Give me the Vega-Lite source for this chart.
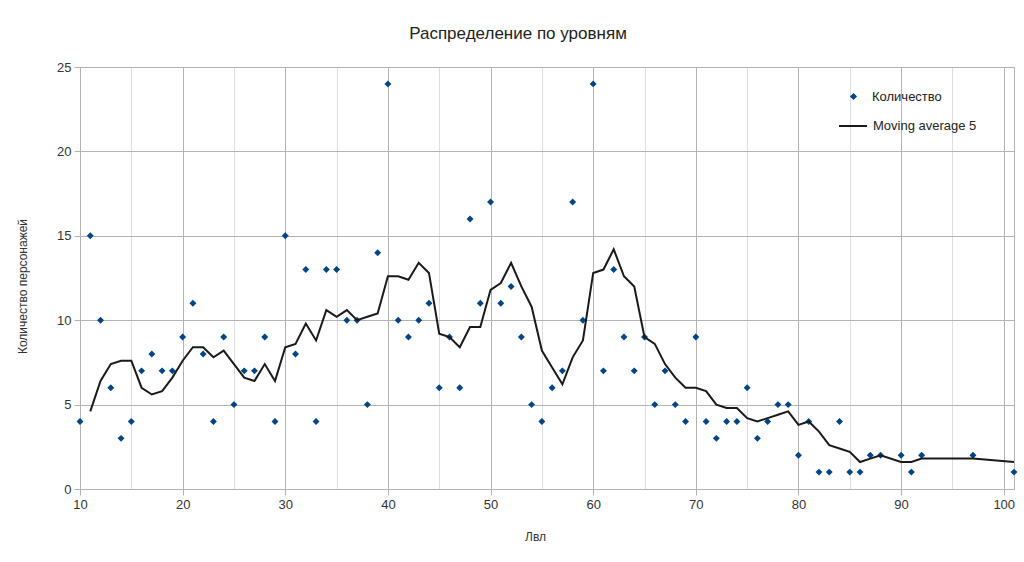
{
  "$schema": "https://vega.github.io/schema/vega-lite/v6.json",
  "autosize": {"type": "none"},
  "width": 934,
  "height": 422,
  "padding": {"left": 80, "top": 67, "right": 10, "bottom": 73},
  "background": "white",
  "config": {
    "font": "Liberation Sans",
    "view": {"stroke": "#b3b3b3"},
    "axis": {"labelFont": "Liberation Sans", "titleFont": "Liberation Sans", "labelColor": "#333333", "titleColor": "#333333", "titleFontWeight": "normal"},
    "legend": {"labelFont": "Liberation Sans", "labelFontSize": 13, "labelColor": "#222222", "padding": 0}
  },
  "title": {"text": "Распределение по уровням", "fontSize": 17, "fontWeight": "normal", "color": "#222222", "font": "Liberation Sans", "anchor": "middle", "dx": -29, "offset": 18},
  "data": {"values": [
    {"lvl": 10, "count": 4, "ma": null},
    {"lvl": 11, "count": 15, "ma": 4.6},
    {"lvl": 12, "count": 10, "ma": 6.4},
    {"lvl": 13, "count": 6, "ma": 7.4},
    {"lvl": 14, "count": 3, "ma": 7.6},
    {"lvl": 15, "count": 4, "ma": 7.6},
    {"lvl": 16, "count": 7, "ma": 6.0},
    {"lvl": 17, "count": 8, "ma": 5.6},
    {"lvl": 18, "count": 7, "ma": 5.8},
    {"lvl": 19, "count": 7, "ma": 6.6},
    {"lvl": 20, "count": 9, "ma": 7.6},
    {"lvl": 21, "count": 11, "ma": 8.4},
    {"lvl": 22, "count": 8, "ma": 8.4},
    {"lvl": 23, "count": 4, "ma": 7.8},
    {"lvl": 24, "count": 9, "ma": 8.2},
    {"lvl": 25, "count": 5, "ma": 7.4},
    {"lvl": 26, "count": 7, "ma": 6.6},
    {"lvl": 27, "count": 7, "ma": 6.4},
    {"lvl": 28, "count": 9, "ma": 7.4},
    {"lvl": 29, "count": 4, "ma": 6.4},
    {"lvl": 30, "count": 15, "ma": 8.4},
    {"lvl": 31, "count": 8, "ma": 8.6},
    {"lvl": 32, "count": 13, "ma": 9.8},
    {"lvl": 33, "count": 4, "ma": 8.8},
    {"lvl": 34, "count": 13, "ma": 10.6},
    {"lvl": 35, "count": 13, "ma": 10.2},
    {"lvl": 36, "count": 10, "ma": 10.6},
    {"lvl": 37, "count": 10, "ma": 10.0},
    {"lvl": 38, "count": 5, "ma": 10.2},
    {"lvl": 39, "count": 14, "ma": 10.4},
    {"lvl": 40, "count": 24, "ma": 12.6},
    {"lvl": 41, "count": 10, "ma": 12.6},
    {"lvl": 42, "count": 9, "ma": 12.4},
    {"lvl": 43, "count": 10, "ma": 13.4},
    {"lvl": 44, "count": 11, "ma": 12.8},
    {"lvl": 45, "count": 6, "ma": 9.2},
    {"lvl": 46, "count": 9, "ma": 9.0},
    {"lvl": 47, "count": 6, "ma": 8.4},
    {"lvl": 48, "count": 16, "ma": 9.6},
    {"lvl": 49, "count": 11, "ma": 9.6},
    {"lvl": 50, "count": 17, "ma": 11.8},
    {"lvl": 51, "count": 11, "ma": 12.2},
    {"lvl": 52, "count": 12, "ma": 13.4},
    {"lvl": 53, "count": 9, "ma": 12.0},
    {"lvl": 54, "count": 5, "ma": 10.8},
    {"lvl": 55, "count": 4, "ma": 8.2},
    {"lvl": 56, "count": 6, "ma": 7.2},
    {"lvl": 57, "count": 7, "ma": 6.2},
    {"lvl": 58, "count": 17, "ma": 7.8},
    {"lvl": 59, "count": 10, "ma": 8.8},
    {"lvl": 60, "count": 24, "ma": 12.8},
    {"lvl": 61, "count": 7, "ma": 13.0},
    {"lvl": 62, "count": 13, "ma": 14.2},
    {"lvl": 63, "count": 9, "ma": 12.6},
    {"lvl": 64, "count": 7, "ma": 12.0},
    {"lvl": 65, "count": 9, "ma": 9.0},
    {"lvl": 66, "count": 5, "ma": 8.6},
    {"lvl": 67, "count": 7, "ma": 7.4},
    {"lvl": 68, "count": 5, "ma": 6.6},
    {"lvl": 69, "count": 4, "ma": 6.0},
    {"lvl": 70, "count": 9, "ma": 6.0},
    {"lvl": 71, "count": 4, "ma": 5.8},
    {"lvl": 72, "count": 3, "ma": 5.0},
    {"lvl": 73, "count": 4, "ma": 4.8},
    {"lvl": 74, "count": 4, "ma": 4.8},
    {"lvl": 75, "count": 6, "ma": 4.2},
    {"lvl": 76, "count": 3, "ma": 4.0},
    {"lvl": 77, "count": 4, "ma": 4.2},
    {"lvl": 78, "count": 5, "ma": 4.4},
    {"lvl": 79, "count": 5, "ma": 4.6},
    {"lvl": 80, "count": 2, "ma": 3.8},
    {"lvl": 81, "count": 4, "ma": 4.0},
    {"lvl": 82, "count": 1, "ma": 3.4},
    {"lvl": 83, "count": 1, "ma": 2.6},
    {"lvl": 84, "count": 4, "ma": 2.4},
    {"lvl": 85, "count": 1, "ma": 2.2},
    {"lvl": 86, "count": 1, "ma": 1.6},
    {"lvl": 87, "count": 2, "ma": 1.8},
    {"lvl": 88, "count": 2, "ma": 2.0},
    {"lvl": 90, "count": 2, "ma": 1.6},
    {"lvl": 91, "count": 1, "ma": 1.6},
    {"lvl": 92, "count": 2, "ma": 1.8},
    {"lvl": 97, "count": 2, "ma": 1.8},
    {"lvl": 101, "count": 1, "ma": 1.6}
  ]},
  "encoding": {
    "x": {
      "field": "lvl", "type": "quantitative",
      "scale": {"domain": [10, 101], "nice": false, "zero": false},
      "axis": {
        "title": "Лвл", "titleFontSize": 12, "titleX": 455, "titleY": 42, "titleAlign": "center",
        "values": [10, 15, 20, 25, 30, 35, 40, 45, 50, 55, 60, 65, 70, 75, 80, 85, 90, 95, 100],
        "labelExpr": "datum.value % 10 === 0 ? datum.label : ''",
        "labelFontSize": 13, "labelPadding": 3, "labelFlush": false,
        "gridColor": {"condition": {"test": "datum.value % 10 === 0", "value": "#b3b3b3"}, "value": "#dddddd"},
        "tickColor": {"condition": {"test": "datum.value % 10 === 0", "value": "#b3b3b3"}, "value": "transparent"},
        "tickSize": 6, "domainColor": "#b3b3b3"
      }
    }
  },
  "layer": [
    {
      "mark": {"type": "point", "shape": "diamond", "filled": true, "size": 48, "opacity": 1},
      "encoding": {
        "y": {
          "field": "count", "type": "quantitative",
          "scale": {"domain": [0, 25], "nice": false},
          "axis": {
            "title": "Количество персонажей", "titleFontSize": 12, "titlePadding": 27, "titleY": 219,
            "values": [0, 5, 10, 15, 20, 25], "labelFontSize": 13, "labelPadding": 3,
            "gridColor": "#b3b3b3", "tickColor": "#b3b3b3", "tickSize": 6, "domainColor": "#b3b3b3"
          }
        },
        "fill": {
          "datum": "Количество",
          "scale": {"domain": ["Количество"], "range": ["#004586"]},
          "legend": {
            "title": null, "orient": "none", "legendX": 767, "legendY": 23,
            "symbolType": "diamond", "symbolSize": 50, "symbolOpacity": 1, "symbolStrokeWidth": 0, "labelOffset": 12
          }
        }
      }
    },
    {
      "mark": {"type": "line", "strokeWidth": 2},
      "encoding": {
        "y": {"field": "ma", "type": "quantitative"},
        "stroke": {
          "datum": "Moving average 5",
          "scale": {"domain": ["Moving average 5"], "range": ["#1a1a1a"]},
          "legend": {
            "title": null, "orient": "none", "legendX": 758, "legendY": 44,
            "symbolType": "stroke", "symbolSize": 784, "symbolStrokeWidth": 2, "labelOffset": 5
          }
        }
      }
    }
  ]
}
